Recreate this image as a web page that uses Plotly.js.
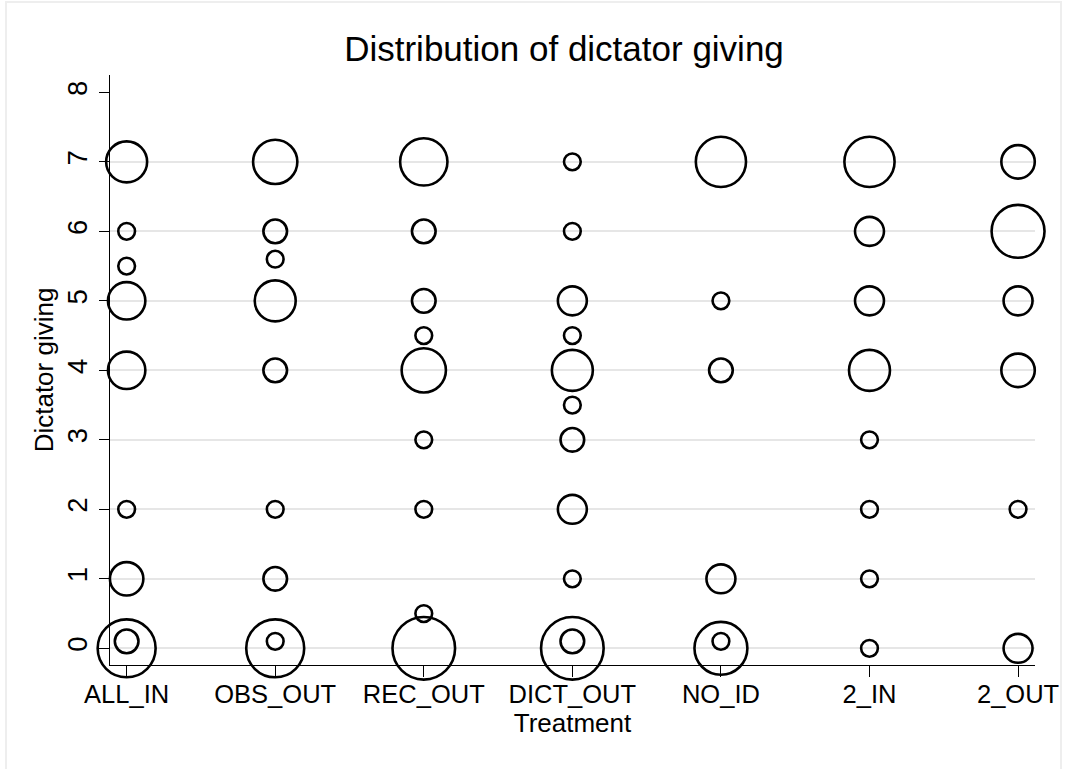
<!DOCTYPE html>
<html>
<head>
<meta charset="utf-8">
<script src="https://cdn.plot.ly/plotly-3.0.1.min.js"></script>
<style>
  html, body { margin: 0; padding: 0; background: #ffffff; }
  #wrap { position: relative; width: 1065px; height: 769px; overflow: hidden; }
  #chart { position: absolute; left: 0; top: 0; width: 1065px; height: 769px; }
  #frame { position: absolute; left: 5px; top: 1px; width: 1057px; height: 790px;
           border: 2px solid #eeeeee; box-sizing: border-box; pointer-events: none; }
</style>
</head>
<body>
<div id="wrap">
  <div id="chart"></div>
  <div id="frame"></div>
</div>
<script>
// Categories (x axis)
const treatments = ['ALL_IN', 'OBS_OUT', 'REC_OUT', 'DICT_OUT', 'NO_ID', '2_IN', '2_OUT'];
// Y tick labels
const yTicks = [0, 1, 2, 3, 4, 5, 6, 7, 8];
const yGrid = [0, 1, 2, 3, 4, 5, 6, 7];

// Observations: treatment, amount given, frequency (bubble weight)
const pointTreatment = [
  'ALL_IN','ALL_IN','ALL_IN','ALL_IN','ALL_IN','ALL_IN','ALL_IN','ALL_IN','ALL_IN',
  'OBS_OUT','OBS_OUT','OBS_OUT','OBS_OUT','OBS_OUT','OBS_OUT','OBS_OUT','OBS_OUT','OBS_OUT',
  'REC_OUT','REC_OUT','REC_OUT','REC_OUT','REC_OUT','REC_OUT','REC_OUT','REC_OUT','REC_OUT',
  'DICT_OUT','DICT_OUT','DICT_OUT','DICT_OUT','DICT_OUT','DICT_OUT','DICT_OUT','DICT_OUT','DICT_OUT','DICT_OUT','DICT_OUT',
  'NO_ID','NO_ID','NO_ID','NO_ID','NO_ID','NO_ID',
  '2_IN','2_IN','2_IN','2_IN','2_IN','2_IN','2_IN','2_IN',
  '2_OUT','2_OUT','2_OUT','2_OUT','2_OUT','2_OUT'
];
const pointGiving = [
  0, 0.1, 1, 2, 4, 5, 5.5, 6, 7,
  0, 0.1, 1, 2, 4, 5, 5.6, 6, 7,
  0, 0.5, 2, 3, 4, 4.5, 5, 6, 7,
  0, 0.1, 1, 2, 3, 3.5, 4, 4.5, 5, 6, 7,
  0, 0.1, 1, 4, 5, 7,
  0, 1, 2, 3, 4, 5, 6, 7,
  0, 2, 4, 5, 6, 7
];
const pointCount = [
  12, 2, 4, 1, 5, 5, 1, 1, 6,
  12, 1, 2, 1, 2, 6, 1, 2, 7,
  14, 1, 1, 1, 7, 1, 2, 2, 8,
  14, 2, 1, 3, 2, 1, 6, 1, 3, 1, 1,
  10, 1, 3, 2, 1, 9,
  1, 1, 1, 1, 6, 3, 3, 9,
  3, 1, 4, 3, 10, 4
];

const FONT = 'Liberation Sans, Arial, Helvetica, sans-serif';

const traces = [
  {
    type: 'scatter',
    mode: 'markers',
    x: pointTreatment,
    y: pointGiving,
    cliponaxis: false,
    hoverinfo: 'x+y+text',
    text: pointCount.map(c => 'n=' + c),
    marker: {
      symbol: 'circle',
      size: pointCount,
      sizemode: 'area',
      sizeref: 2 / 280,
      color: 'rgba(0,0,0,0)',
      opacity: 1,
      line: { color: '#000000', width: 2.6 }
    },
    showlegend: false
  },
  {
    type: 'scatter',
    mode: 'markers',
    x: [],
    y: [],
    yaxis: 'y2',
    showlegend: false,
    hoverinfo: 'skip'
  }
];

const layout = {
  width: 1065,
  height: 769,
  autosize: false,
  margin: { l: 110, r: 30, t: 75, b: 104, pad: 0 },
  paper_bgcolor: 'rgba(0,0,0,0)',
  plot_bgcolor: 'rgba(0,0,0,0)',
  font: { family: FONT, color: '#000000', size: 25 },
  showlegend: false,
  title: {
    text: 'Distribution of dictator giving',
    font: { family: FONT, size: 35, color: '#000000' },
    x: 564 / 1065,
    xanchor: 'center',
    xref: 'container',
    y: 1 - 49 / 769,
    yanchor: 'middle',
    yref: 'container'
  },
  xaxis: {
    type: 'category',
    categoryorder: 'array',
    categoryarray: treatments,
    range: [-0.112, 6.114],
    showline: true,
    linecolor: '#000000',
    linewidth: 1,
    ticks: 'outside',
    ticklen: 11,
    tickwidth: 1,
    tickcolor: '#000000',
    ticklabelstandoff: -5,
    showgrid: false,
    zeroline: false,
    tickfont: { family: FONT, size: 25.5, color: '#000000' },
    title: { text: 'Treatment', font: { family: FONT, size: 26, color: '#000000' }, standoff: 0 },
    automargin: false,
    fixedrange: true
  },
  yaxis: {
    range: [-0.24, 8.25],
    tickmode: 'array',
    tickvals: yTicks,
    ticktext: yTicks.map(String),
    tickangle: -90,
    showline: true,
    linecolor: '#000000',
    linewidth: 1,
    ticks: 'outside',
    ticklen: 10,
    tickwidth: 1,
    tickcolor: '#000000',
    ticklabelstandoff: 1,
    showgrid: false,
    zeroline: false,
    tickfont: { family: FONT, size: 27.5, color: '#000000' },
    title: { text: 'Dictator giving', font: { family: FONT, size: 26, color: '#000000' }, standoff: 0 },
    automargin: false,
    fixedrange: true
  },
  yaxis2: {
    overlaying: 'y',
    range: [-0.24, 8.25],
    tickmode: 'array',
    tickvals: yGrid,
    showticklabels: false,
    ticks: '',
    showline: false,
    zeroline: false,
    showgrid: true,
    gridcolor: '#e6e6e6',
    gridwidth: 2,
    fixedrange: true
  }
};

Plotly.newPlot('chart', traces, layout, { staticPlot: true, displayModeBar: false });
</script>
</body>
</html>
